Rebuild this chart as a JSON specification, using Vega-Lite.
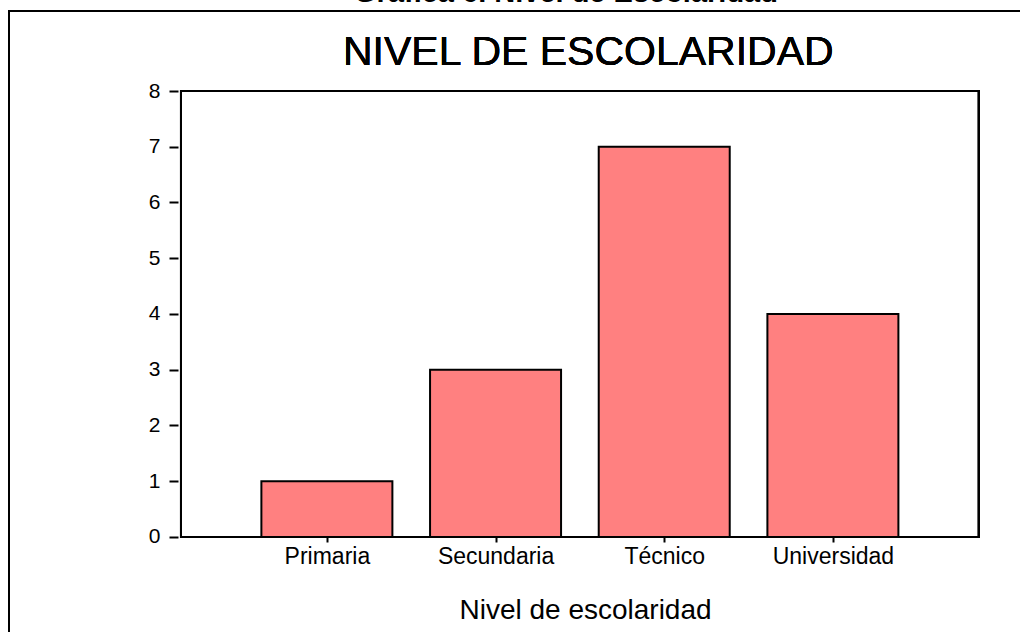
{
  "$schema": "https://vega.github.io/schema/vega-lite/v6.json",
  "autosize": {"type": "none"},
  "padding": {"left": 9, "top": 11, "right": 0, "bottom": 0},
  "width": 1020,
  "height": 640,
  "background": "white",
  "config": {
    "view": {"stroke": "black", "strokeWidth": 2},
    "font": "Liberation Sans"
  },
  "title": {
    "text": "Gráfica 6. Nivel de Escolaridad",
    "font": "Liberation Sans",
    "fontSize": 29,
    "fontWeight": "bold",
    "color": "black",
    "anchor": "middle",
    "dx": 47,
    "dy": 20,
    "baseline": "alphabetic",
    "offset": 0
  },
  "data": {
    "values": [
      {"nivel": "Primaria", "orden": 1, "frecuencia": 1},
      {"nivel": "Secundaria", "orden": 2, "frecuencia": 3},
      {"nivel": "Técnico", "orden": 3, "frecuencia": 7},
      {"nivel": "Universidad", "orden": 4, "frecuencia": 4}
    ]
  },
  "layer": [
    {
      "mark": {"type": "bar", "width": 131, "fill": "#FF8080", "stroke": "black", "strokeWidth": 2},
      "encoding": {
        "x": {
          "field": "orden",
          "type": "quantitative",
          "scale": {"domain": [-0.855, 5.133], "nice": false, "zero": false},
          "axis": {
            "values": [1, 2, 3, 4],
            "labelExpr": "['', 'Primaria', 'Secundaria', 'Técnico', 'Universidad'][datum.value]",
            "domain": false,
            "grid": false,
            "ticks": true,
            "tickSize": 5,
            "tickWidth": 2,
            "tickColor": "black",
            "labelFontSize": 23,
            "labelColor": "black",
            "labelPadding": 3,
            "offset": -114,
            "title": "Nivel de escolaridad",
            "titleFontSize": 28,
            "titleFontWeight": "normal",
            "titleColor": "black",
            "titleX": 576,
            "titleY": 81,
            "titleBaseline": "alphabetic",
            "titleAlign": "center"
          }
        },
        "y": {
          "field": "frecuencia",
          "type": "quantitative",
          "scale": {"domain": [-2.045, 9.435], "nice": false, "zero": false},
          "axis": {
            "values": [0, 1, 2, 3, 4, 5, 6, 7, 8],
            "domain": false,
            "grid": false,
            "tickSize": 9,
            "tickWidth": 2,
            "tickColor": "black",
            "labelFontSize": 21,
            "labelColor": "black",
            "labelPadding": 9,
            "offset": -169,
            "title": null
          }
        },
        "y2": {"datum": 0}
      }
    },
    {
      "mark": {"type": "rect", "fill": "transparent", "stroke": "black", "strokeWidth": 2},
      "encoding": {
        "x": {"datum": 0.135, "type": "quantitative"},
        "x2": {"datum": 4.865},
        "y": {"datum": 0, "type": "quantitative"},
        "y2": {"datum": 8}
      }
    },
    {
      "mark": {"type": "text", "text": "NIVEL DE ESCOLARIDAD", "fontSize": 41, "font": "Liberation Sans", "color": "black", "baseline": "middle", "align": "center"},
      "encoding": {
        "x": {"datum": 2.55, "type": "quantitative"},
        "y": {"datum": 8.68, "type": "quantitative"}
      }
    }
  ]
}
